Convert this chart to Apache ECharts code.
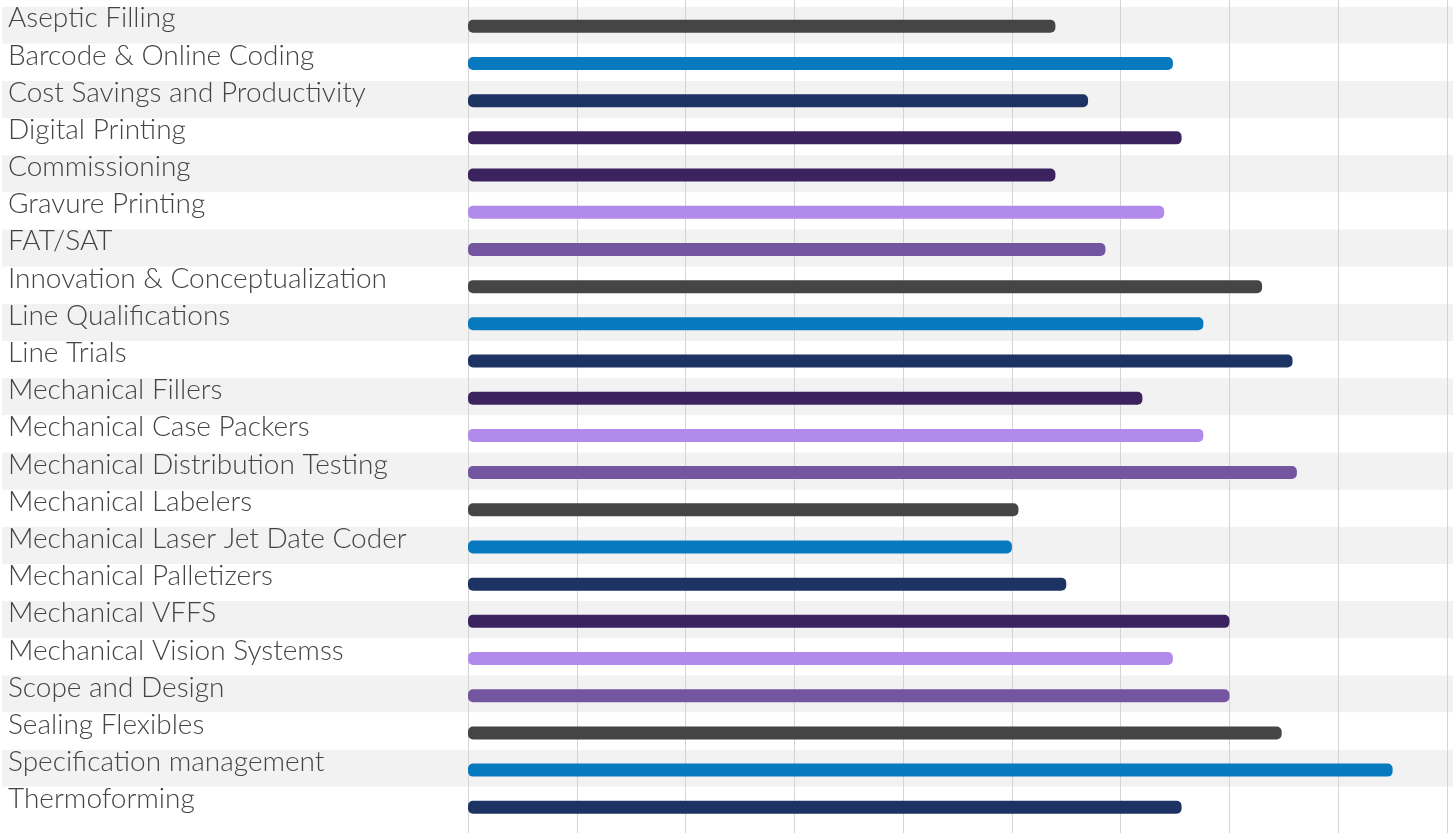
<!DOCTYPE html>
<html>
<head>
<meta charset="utf-8">
<script src="https://cdn.jsdelivr.net/npm/echarts@6/dist/echarts.min.js"></script>
<style>
html,body{margin:0;padding:0;background:#fff;}
#chart{width:1456px;height:833px;}
</style>
</head>
<body>
<div id="chart"></div>
<script>
const categories = [
  'Aseptic Filling', 'Barcode & Online Coding', 'Cost Savings and Productivity',
  'Digital Printing', 'Commissioning', 'Gravure Printing', 'FAT/SAT',
  'Innovation & Conceptualization', 'Line Qualifications', 'Line Trials',
  'Mechanical Fillers', 'Mechanical Case Packers', 'Mechanical Distribution Testing',
  'Mechanical Labelers', 'Mechanical Laser Jet Date Coder', 'Mechanical Palletizers',
  'Mechanical VFFS', 'Mechanical Vision Systemss', 'Scope and Design',
  'Sealing Flexibles', 'Specification management', 'Thermoforming'
];
const values = [
  2.70, 3.24, 2.85, 3.28, 2.70, 3.20, 2.93,
  3.65, 3.38, 3.79, 3.10, 3.38, 3.81,
  2.53, 2.50, 2.75, 3.50, 3.24, 3.50,
  3.74, 4.25, 3.28
];
const axisMax = 4.5;
const axisInterval = 0.5;

const C_GRAY = '#454545', C_BLUE = '#0779be', C_NAVY = '#1c3363',
      C_DPUR = '#3b2360', C_LPUR = '#b28aec', C_PUR = '#73569f';
const barColors = [
  C_GRAY, C_BLUE, C_NAVY, C_DPUR, C_DPUR, C_LPUR, C_PUR,
  C_GRAY, C_BLUE, C_NAVY, C_DPUR, C_LPUR, C_PUR,
  C_GRAY, C_BLUE, C_NAVY, C_DPUR, C_LPUR, C_PUR,
  C_GRAY, C_BLUE, C_NAVY
];

const chart = echarts.init(document.getElementById('chart'), null, {renderer: 'canvas'});
const option = {
  animation: false,
  backgroundColor: '#ffffff',
  grid: [
    {left: 2, right: 3, top: 6.7, height: 817.3},
    {left: 468, width: 979, top: 0, height: 833},
    {left: 468, width: 979, top: 7.7, height: 818.2}
  ],
  xAxis: [
    {gridIndex: 0, type: 'value', show: false, min: 0, max: 1},
    {gridIndex: 1, type: 'value', min: 0, max: axisMax, interval: axisInterval, z: 1,
      axisLine: {show: false}, axisTick: {show: false}, axisLabel: {show: false},
      splitLine: {show: true, lineStyle: {color: '#d4d4d4', width: 1}}},
    {gridIndex: 2, type: 'value', min: 0, max: axisMax, interval: axisInterval, show: false,
      splitLine: {show: false}}
  ],
  yAxis: [
    {gridIndex: 0, type: 'category', data: categories, inverse: true, z: 0,
      axisLine: {show: false}, axisTick: {show: false}, axisLabel: {show: false},
      splitLine: {show: false},
      splitArea: {show: true, areaStyle: {color: ['#f2f2f2', '#ffffff']}}},
    {gridIndex: 1, type: 'category', data: categories, inverse: true, show: false},
    {gridIndex: 2, type: 'category', data: categories, inverse: true, z: 3,
      axisLine: {show: false}, axisTick: {show: false},
      axisLabel: {show: true, align: 'left', margin: 460, color: '#444444',
        fontFamily: 'Lato', fontWeight: 300, fontSize: 28,
        verticalAlign: 'bottom', lineHeight: 16}}
  ],
  series: [{
    type: 'bar',
    xAxisIndex: 2, yAxisIndex: 2,
    z: 2,
    barWidth: 13,
    data: values.map((v, i) => ({value: v, itemStyle: {color: barColors[i]}})),
    itemStyle: {borderRadius: 5}
  }]
};
chart.setOption(option);
</script>
</body>
</html>
